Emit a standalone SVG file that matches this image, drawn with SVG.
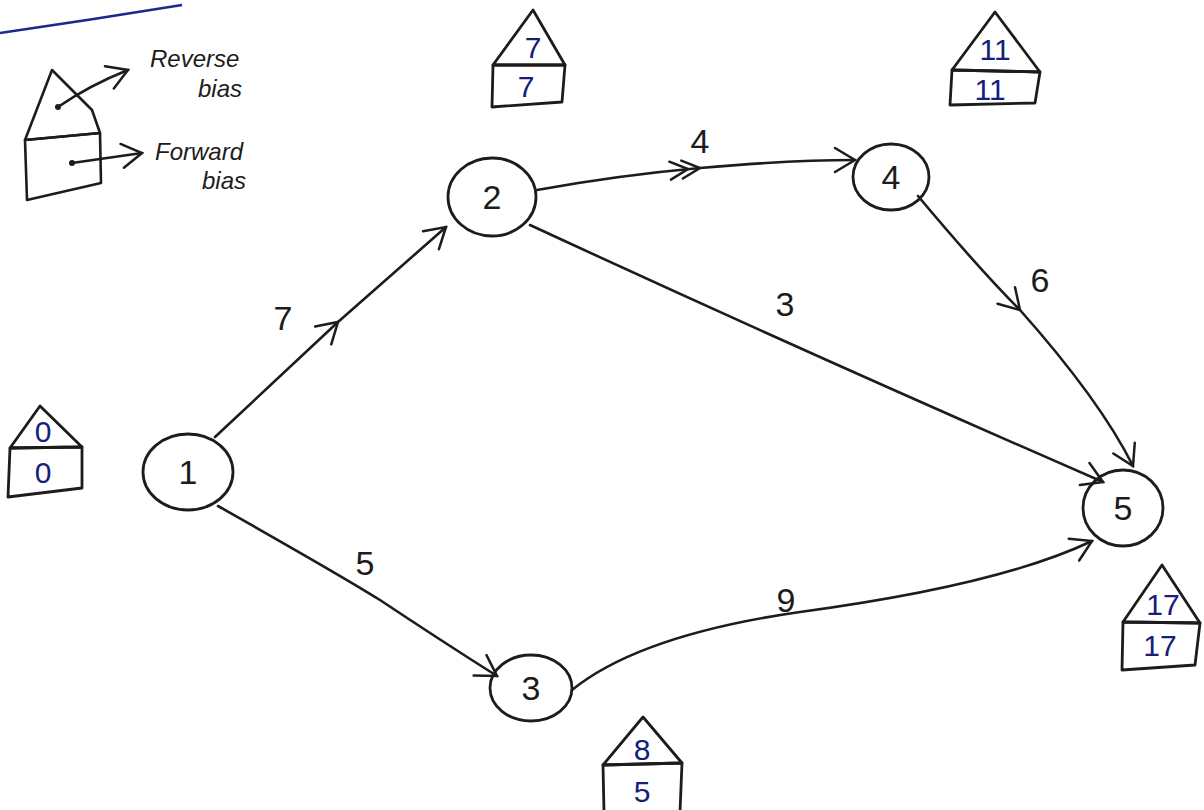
<svg xmlns="http://www.w3.org/2000/svg" width="1204" height="810" viewBox="0 0 1204 810">
<style>
.bg{fill:#ffffff}
.ln{fill:none;stroke:#1c1c1c;stroke-width:2.6;stroke-linecap:round;stroke-linejoin:round}
.node ellipse{fill:none;stroke:#1c1c1c;stroke-width:2.8}
.nt{font-family:"Liberation Sans",Arial,sans-serif;font-size:34px;fill:#1c1c1c;text-anchor:middle}
.el{font-family:"Liberation Sans",Arial,sans-serif;font-size:34px;fill:#1c1c1c;text-anchor:middle}
.house polygon{fill:none;stroke:#1c1c1c;stroke-width:2.8;stroke-linejoin:round}
.ht{font-family:"Liberation Sans",Arial,sans-serif;font-size:30px;fill:#14207a;text-anchor:middle}
.lg{font-family:"Liberation Sans",Arial,sans-serif;font-style:italic;font-size:24px;fill:#1c1c1c}
</style>
<defs>
<marker id="ah" viewBox="-24 -14 26 28" refX="0" refY="0" markerWidth="26" markerHeight="28" markerUnits="userSpaceOnUse" orient="auto">
<path d="M-20,-12 L0,0 L-20,12" fill="none" stroke="#1c1c1c" stroke-width="2.5" stroke-linecap="round"/>
</marker>
<marker id="ah2" viewBox="-34 -14 36 28" refX="0" refY="0" markerWidth="36" markerHeight="28" markerUnits="userSpaceOnUse" orient="auto">
<path d="M-18,-9 L0,0 L-18,9 M-30,-9 L-12,0 L-30,9" fill="none" stroke="#1c1c1c" stroke-width="2.5" stroke-linecap="round"/>
</marker>
</defs>
<rect class="bg" x="0" y="0" width="1204" height="810"/>

<g id="legend">
<path d="M0,33 Q90,20 182,5" fill="none" stroke="#1a2a8a" stroke-width="2.5"/>
<polygon points="52,70 92,110 100,133 25,140" fill="none" stroke="#1c1c1c" stroke-width="2.6" stroke-linejoin="round"/>
<polygon points="25,140 100,133 101,183 27,200" fill="none" stroke="#1c1c1c" stroke-width="2.6" stroke-linejoin="round"/>
<circle cx="58" cy="107" r="3" fill="#1c1c1c"/>
<path d="M58,107 Q90,85 128,70" class="ln" marker-end="url(#ah)"/>
<circle cx="72" cy="163" r="3" fill="#1c1c1c"/>
<path d="M72,163 L142,153" class="ln" marker-end="url(#ah)"/>
<text class="lg" x="150" y="67">Reverse</text>
<text class="lg" x="198" y="97">bias</text>
<text class="lg" x="155" y="160">Forward</text>
<text class="lg" x="202" y="189">bias</text>
</g>

<g id="connectors">
<path class="ln" d="M215,437 L338,322 L446,227" marker-mid="url(#ah)" marker-end="url(#ah)"/>
<path class="ln" d="M218,506 Q340,575 380,600 Q440,640 497,676" marker-end="url(#ah)"/>
<path class="ln" d="M537,190 Q620,175 700,168 Q790,160 855,160" marker-mid="url(#ah2)" marker-end="url(#ah)"/>
<path class="ln" d="M918,196 Q980,270 1020,310 Q1100,400 1133,466" marker-mid="url(#ah)" marker-end="url(#ah)"/>
<path class="ln" d="M530,225 Q800,350 1103,482" marker-end="url(#ah)"/>
<path class="ln" d="M572,690 Q640,635 800,612 Q1000,585 1092,541" marker-end="url(#ah)"/>
<text class="el" x="283" y="330">7</text>
<text class="el" x="365" y="575">5</text>
<text class="el" x="700" y="153">4</text>
<text class="el" x="785" y="316">3</text>
<text class="el" x="1040" y="292">6</text>
<text class="el" x="786" y="612">9</text>
</g>

<g id="node1" class="node"><ellipse cx="188" cy="472" rx="45" ry="38"/><text class="nt" x="188" y="484">1</text></g>
<g id="node2" class="node"><ellipse cx="492" cy="197" rx="44" ry="39"/><text class="nt" x="492" y="209">2</text></g>
<g id="node3" class="node"><ellipse cx="531" cy="688" rx="41" ry="33"/><text class="nt" x="531" y="700">3</text></g>
<g id="node4" class="node"><ellipse cx="891" cy="177" rx="38" ry="33"/><text class="nt" x="891" y="189">4</text></g>
<g id="node5" class="node"><ellipse cx="1123" cy="508" rx="40" ry="38"/><text class="nt" x="1123" y="520">5</text></g>

<g id="house1" class="house">
<polygon points="40,406 82,447 10,448"/>
<polygon points="10,448 82,447 82,488 8,497"/>
<text class="ht" x="43" y="442">0</text>
<text class="ht" x="43" y="483">0</text>
</g>
<g id="house2" class="house">
<polygon points="533,10 565,65 493,65"/>
<polygon points="493,65 565,65 562,102 492,107"/>
<text class="ht" x="533" y="58">7</text>
<text class="ht" x="526" y="97">7</text>
</g>
<g id="house4" class="house">
<polygon points="995,12 1040,72 952,70"/>
<polygon points="952,70 1040,72 1035,103 950,105"/>
<text class="ht" x="995" y="60">11</text>
<text class="ht" x="990" y="100">11</text>
</g>
<g id="house5" class="house">
<polygon points="1162,565 1200,623 1123,622"/>
<polygon points="1123,622 1200,623 1195,665 1122,670"/>
<text class="ht" x="1163" y="615">17</text>
<text class="ht" x="1160" y="656">17</text>
</g>
<g id="house3" class="house">
<polygon points="643,717 682,763 603,765"/>
<polygon points="603,765 682,763 680,812 604,812"/>
<text class="ht" x="642" y="760">8</text>
<text class="ht" x="642" y="802">5</text>
</g>
</svg>
